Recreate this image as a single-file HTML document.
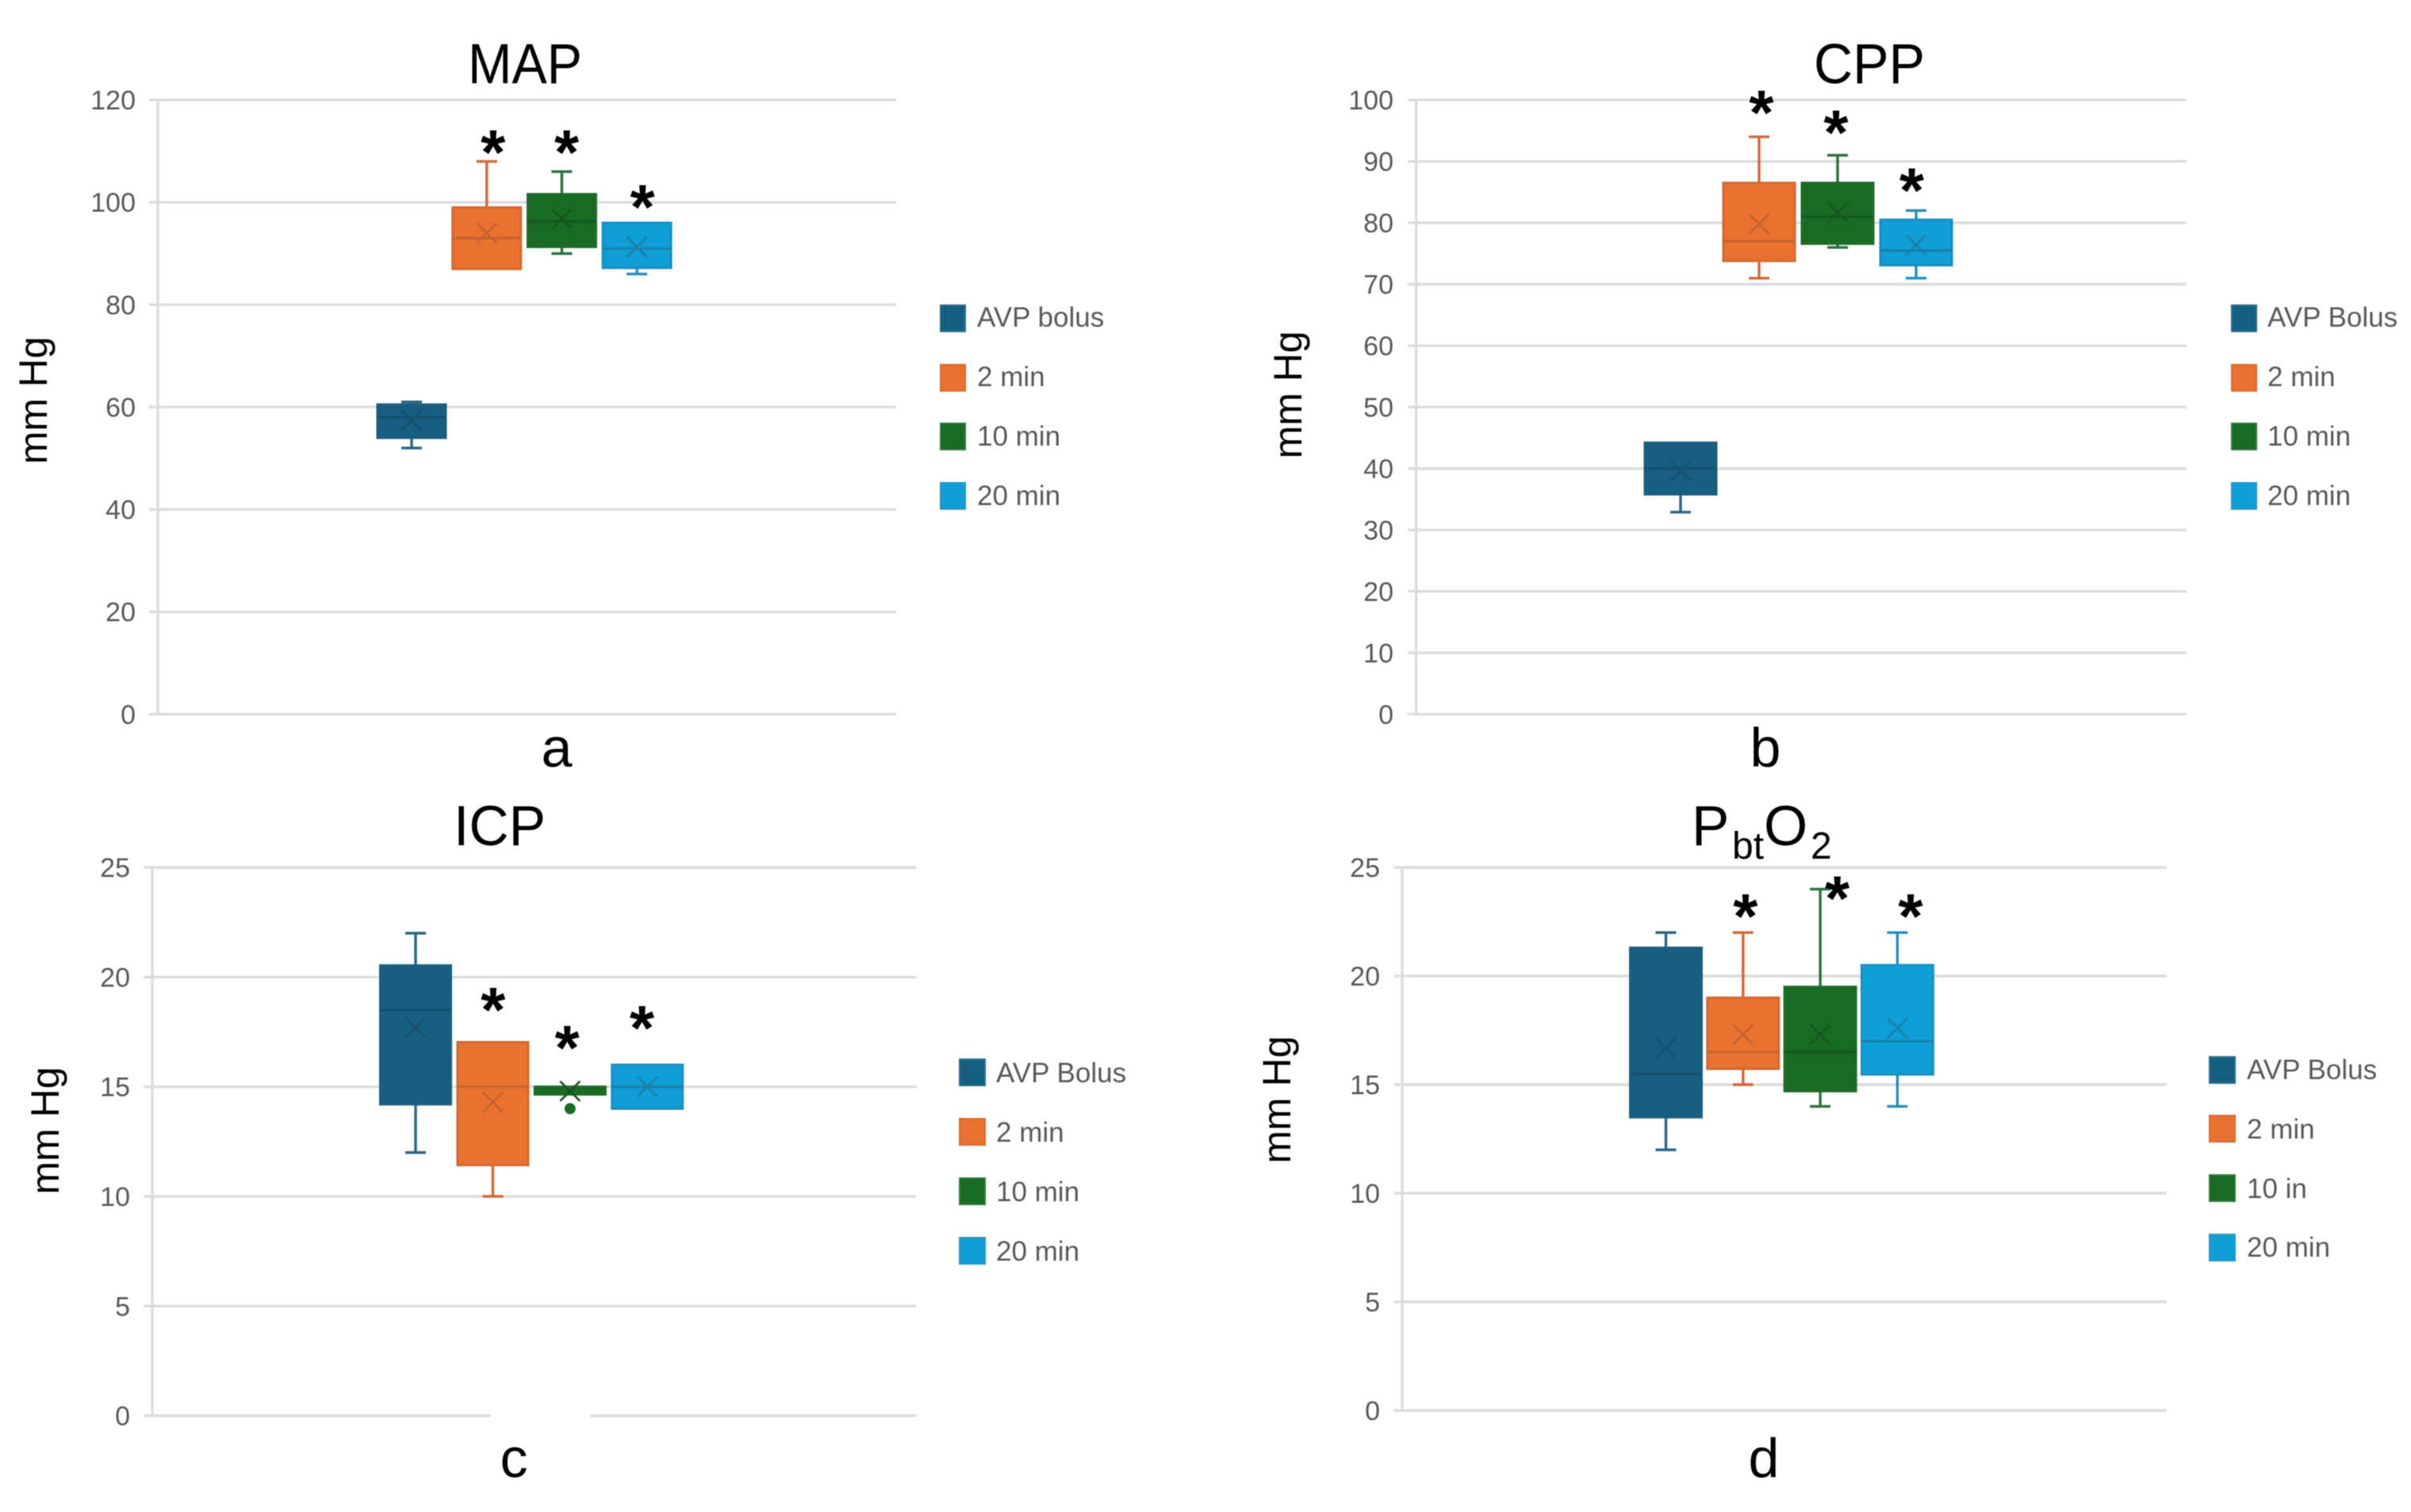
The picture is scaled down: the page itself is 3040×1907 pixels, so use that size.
<!DOCTYPE html>
<html lang="en">
<head>
<meta charset="utf-8">
<title>MAP, CPP, ICP and PbtO2 after AVP bolus</title>
<style>
html,body{margin:0;padding:0;background:#fff;}
svg{display:block;font-family:"Liberation Sans",Arial,sans-serif;filter:blur(0.6px);}
.title{font-size:71px;fill:#000;}
.ytitle{font-size:50px;fill:#000;}
.letter{font-size:70px;fill:#000;}
.leg{font-size:35px;fill:#595959;}
</style>
</head>
<body>
<svg id="figure" xmlns="http://www.w3.org/2000/svg" width="3040" height="1907" viewBox="0 0 3040 1907">
<rect width="3040" height="1907" fill="#ffffff"/>

<g id="panel-map"></g>
<g id="panel-cpp"></g>
<g id="panel-icp"></g>
<g id="panel-pbto2"></g>

<rect x="619" y="1776" width="125" height="18" fill="#ffffff"/>

<text class="title" x="590" y="105" textLength="144" lengthAdjust="spacingAndGlyphs">MAP</text>
<text class="title" x="2287" y="105" textLength="140" lengthAdjust="spacingAndGlyphs">CPP</text>
<text class="title" x="572" y="1066" textLength="116" lengthAdjust="spacingAndGlyphs">ICP</text>
<text class="title" y="1066"><tspan x="2133">P</tspan><tspan x="2184" y="1083" font-size="48">bt</tspan><tspan x="2224" y="1066">O</tspan><tspan x="2283" y="1083" font-size="48">2</tspan></text>

<text class="letter" x="702" y="967" text-anchor="middle">a</text>
<text class="letter" x="2226" y="967" text-anchor="middle">b</text>
<text class="letter" x="648" y="1863" text-anchor="middle">c</text>
<text class="letter" x="2224" y="1863" text-anchor="middle">d</text>

<text class="ytitle" text-anchor="middle" transform="translate(59,505) rotate(-90)">mm Hg</text>
<text class="ytitle" text-anchor="middle" transform="translate(1641,498) rotate(-90)">mm Hg</text>
<text class="ytitle" text-anchor="middle" transform="translate(74,1426) rotate(-90)">mm Hg</text>
<text class="ytitle" text-anchor="middle" transform="translate(1627,1387) rotate(-90)">mm Hg</text>

<g>
<rect x="1186" y="385" width="31" height="33" fill="#156082" stroke="#2a6f8f" stroke-width="2"/>
<text class="leg" x="1232" y="412">AVP bolus</text>
<rect x="1186" y="460" width="31" height="33" fill="#E97132" stroke="#d96a30" stroke-width="2"/>
<text class="leg" x="1232" y="487">2 min</text>
<rect x="1186" y="534" width="31" height="33" fill="#196B24" stroke="#347a3e" stroke-width="2"/>
<text class="leg" x="1232" y="562">10 min</text>
<rect x="1186" y="609" width="31" height="33" fill="#0F9ED5" stroke="#2a93c4" stroke-width="2"/>
<text class="leg" x="1232" y="637">20 min</text>
</g>

<g>
<rect x="2814" y="385" width="31" height="33" fill="#156082" stroke="#2a6f8f" stroke-width="2"/>
<text class="leg" x="2859" y="412">AVP Bolus</text>
<rect x="2814" y="460" width="31" height="33" fill="#E97132" stroke="#d96a30" stroke-width="2"/>
<text class="leg" x="2859" y="487">2 min</text>
<rect x="2814" y="534" width="31" height="33" fill="#196B24" stroke="#347a3e" stroke-width="2"/>
<text class="leg" x="2859" y="562">10 min</text>
<rect x="2814" y="609" width="31" height="33" fill="#0F9ED5" stroke="#2a93c4" stroke-width="2"/>
<text class="leg" x="2859" y="637">20 min</text>
</g>

<g>
<rect x="1210" y="1336" width="32" height="33" fill="#156082" stroke="#2a6f8f" stroke-width="2"/>
<text class="leg" x="1256" y="1365">AVP Bolus</text>
<rect x="1210" y="1411" width="32" height="33" fill="#E97132" stroke="#d96a30" stroke-width="2"/>
<text class="leg" x="1256" y="1440">2 min</text>
<rect x="1210" y="1486" width="32" height="33" fill="#196B24" stroke="#347a3e" stroke-width="2"/>
<text class="leg" x="1256" y="1515">10 min</text>
<rect x="1210" y="1561" width="32" height="33" fill="#0F9ED5" stroke="#2a93c4" stroke-width="2"/>
<text class="leg" x="1256" y="1590">20 min</text>
</g>

<g>
<rect x="2786" y="1333" width="32" height="33" fill="#156082" stroke="#2a6f8f" stroke-width="2"/>
<text class="leg" x="2833" y="1361">AVP Bolus</text>
<rect x="2786" y="1407" width="32" height="33" fill="#E97132" stroke="#d96a30" stroke-width="2"/>
<text class="leg" x="2833" y="1436">2 min</text>
<rect x="2786" y="1482" width="32" height="33" fill="#196B24" stroke="#347a3e" stroke-width="2"/>
<text class="leg" x="2833" y="1511">10 in</text>
<rect x="2786" y="1557" width="32" height="33" fill="#0F9ED5" stroke="#2a93c4" stroke-width="2"/>
<text class="leg" x="2833" y="1585">20 min</text>
</g>
</svg>

<script>
// Shared categories
const timepoints = ['avp-bolus', '2-min', '10-min', '20-min'];

// MAP
const mapTicks = [0, 20, 40, 60, 80, 100, 120];
const mapMin = [52, 87, 90, 86];
const mapQ1 = [54, 87, 91.3, 87.2];
const mapMedian = [58, 93, 96.3, 91];
const mapQ3 = [60.5, 99, 101.6, 96];
const mapMax = [61, 108, 106, 96];
const mapMean = [57.4, 94, 96.8, 91.3];
const mapStars = [null, 111.6, 111.6, 100.9];
const mapOutliers = [[], [], [], []];

// CPP
const cppTicks = [0, 10, 20, 30, 40, 50, 60, 70, 80, 90, 100];
const cppMin = [32.9, 71, 76, 71];
const cppQ1 = [35.8, 73.8, 76.6, 73.1];
const cppMedian = [40, 77, 81, 75.5];
const cppQ3 = [44.2, 86.5, 86.5, 80.5];
const cppMax = [44.2, 94, 91, 82];
const cppMean = [39.6, 79.8, 81.7, 76.4];
const cppStars = [null, 99.4, 96.2, 86.8];
const cppOutliers = [[], [], [], []];

// ICP
const icpTicks = [0, 5, 10, 15, 20, 25];
const icpMin = [12, 10, 14.65, 14];
const icpQ1 = [14.2, 11.43, 14.65, 14];
const icpMedian = [18.5, 15, 14.85, 15];
const icpQ3 = [20.53, 17.03, 15, 16];
const icpMax = [22, 17.03, 15, 16];
const icpMean = [17.7, 14.3, 14.8, 15];
const icpStars = [null, 18.93, 17.2, 18.09];
const icpOutliers = [[], [], [14], []];

// PbtO2
const pbto2Ticks = [0, 5, 10, 15, 20, 25];
const pbto2Min = [12, 15, 14, 14];
const pbto2Q1 = [13.5, 15.73, 14.7, 15.47];
const pbto2Median = [15.5, 16.5, 16.5, 17];
const pbto2Q3 = [21.3, 19, 19.5, 20.5];
const pbto2Max = [22, 22, 24, 22];
const pbto2Mean = [16.68, 17.3, 17.3, 17.6];
const pbto2Stars = [null, 23.17, 24, 23.17];
const pbto2Outliers = [[], [], [], []];

const SVGNS = 'http://www.w3.org/2000/svg';
const fills = ['#165F82', '#EA7231', '#196B24', '#0F9ED5'];
const edges = ['#1D5E7E', '#D5682F', '#1F6B2A', '#1A8FC2'];
const whisks = ['#2A6685', '#D2693A', '#2E7040', '#2190C0'];
const inner = ['#154F6D', '#C4632E', '#14561D', '#1A7FA8'];

function make(tag, attrs, parent) {
  const el = document.createElementNS(SVGNS, tag);
  for (const k in attrs) el.setAttribute(k, attrs[k]);
  parent.appendChild(el);
  return el;
}

function drawPanel(id, prefix, d, L) {
  const root = document.getElementById(id);
  const maxTick = d.ticks[d.ticks.length - 1];
  const y = v => L.y0 - (v / maxTick) * (L.y0 - L.yTop);
  const x = i => L.first + i * L.step;

  d.ticks.forEach(t => {
    const grid = make('line', {x1: L.left, x2: L.right, y1: y(t), y2: y(t), stroke: '#DCDCDC', 'stroke-width': 3.4}, root);
    
    
    const lab = make('text', {x: L.labelX, y: y(t) + 12, 'text-anchor': 'end', 'font-size': 34, fill: '#595959'}, root);
    lab.textContent = t;
    
    
  });

  const axis = make('line', {x1: L.axisX, x2: L.axisX, y1: y(maxTick), y2: y(0), stroke: '#DCDCDC', 'stroke-width': 3.4}, root);
  
  

  timepoints.forEach((name, i) => {
    const g = make('g', {}, root);
    
    
    const cx = x(i);
    const half = L.width / 2;

    if (d.max[i] > d.q3[i]) {
      const up = make('line', {x1: cx, x2: cx, y1: y(d.max[i]), y2: y(d.q3[i]), stroke: whisks[i], 'stroke-width': 3.4}, g);
      
      
      const upCap = make('line', {x1: cx - 13, x2: cx + 13, y1: y(d.max[i]), y2: y(d.max[i]), stroke: whisks[i], 'stroke-width': 3.4}, g);
      
      
    }
    if (d.min[i] < d.q1[i]) {
      const low = make('line', {x1: cx, x2: cx, y1: y(d.q1[i]), y2: y(d.min[i]), stroke: whisks[i], 'stroke-width': 3.4}, g);
      
      
      const lowCap = make('line', {x1: cx - 13, x2: cx + 13, y1: y(d.min[i]), y2: y(d.min[i]), stroke: whisks[i], 'stroke-width': 3.4}, g);
      
      
    }

    const box = make('rect', {x: cx - half, y: y(d.q3[i]), width: L.width, height: y(d.q1[i]) - y(d.q3[i]), fill: fills[i], stroke: edges[i], 'stroke-width': 3}, g);
    
    

    const thin = y(d.q1[i]) - y(d.q3[i]) < 14;
    const med = make('line', {x1: cx - half, x2: cx + half, y1: y(d.median[i]), y2: y(d.median[i]), stroke: thin ? fills[i] : inner[i], 'stroke-width': 3}, g);
    
    

    const my = y(d.mean[i]);
    const m1 = make('line', {x1: cx - 12.5, x2: cx + 12.5, y1: my - 12.5, y2: my + 12.5, stroke: inner[i], 'stroke-width': 2.6}, g);
    
    
    const m2 = make('line', {x1: cx - 12.5, x2: cx + 12.5, y1: my + 12.5, y2: my - 12.5, stroke: inner[i], 'stroke-width': 2.6}, g);
    
    

    d.outliers[i].forEach(v => {
      const dot = make('circle', {cx: cx, cy: y(v), r: 7, fill: fills[i]}, g);
      
      
    });

    if (d.stars[i] !== null) {
      const star = make('text', {x: cx + L.starDx[i], y: y(d.stars[i]) + 39, 'text-anchor': 'middle', 'font-size': 80, 'font-weight': 'bold', fill: '#000'}, g);
      star.textContent = '*';
      
      
    }
  });
}

drawPanel('panel-map', 'map',
  {ticks: mapTicks, min: mapMin, q1: mapQ1, median: mapMedian, q3: mapQ3, max: mapMax, mean: mapMean, stars: mapStars, outliers: mapOutliers},
  {left: 188, right: 1130, axisX: 199, labelX: 171, y0: 900.8, yTop: 126.1, first: 519, step: 94.7, width: 86, starDx: [0, 8, 6, 7]});
drawPanel('panel-cpp', 'cpp',
  {ticks: cppTicks, min: cppMin, q1: cppQ1, median: cppMedian, q3: cppQ3, max: cppMax, mean: cppMean, stars: cppStars, outliers: cppOutliers},
  {left: 1775, right: 2757, axisX: 1785.6, labelX: 1757, y0: 900.8, yTop: 126.1, first: 2119, step: 99, width: 90, starDx: [0, 3, -2, -5.5]});
drawPanel('panel-icp', 'icp',
  {ticks: icpTicks, min: icpMin, q1: icpQ1, median: icpMedian, q3: icpQ3, max: icpMax, mean: icpMean, stars: icpStars, outliers: icpOutliers},
  {left: 181, right: 1155.5, axisX: 192, labelX: 164, y0: 1785.6, yTop: 1094, first: 524, step: 97.4, width: 89, starDx: [0, 0.3, -3.7, -6.7]});
drawPanel('panel-pbto2', 'pbto2',
  {ticks: pbto2Ticks, min: pbto2Min, q1: pbto2Q1, median: pbto2Median, q3: pbto2Q3, max: pbto2Max, mean: pbto2Mean, stars: pbto2Stars, outliers: pbto2Outliers},
  {left: 1757.5, right: 2731.7, axisX: 1768, labelX: 1740, y0: 1779, yTop: 1094, first: 2100.5, step: 97.3, width: 90, starDx: [0, 3, 21.5, 16.6]});
</script>
</body>
</html>
